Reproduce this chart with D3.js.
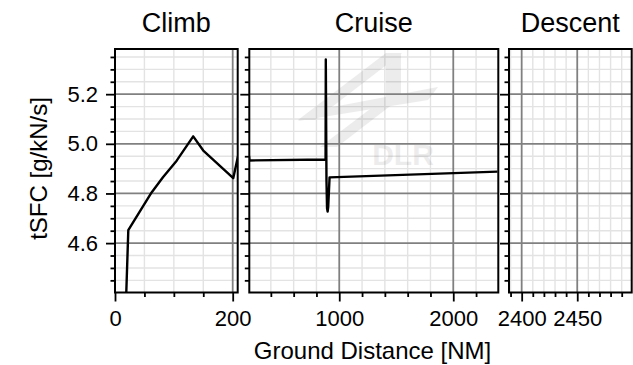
<!DOCTYPE html>
<html>
<head>
<meta charset="utf-8">
<script src="https://cdn.jsdelivr.net/npm/d3@7"></script>
<style>
  body { margin: 0; background: #fff; }
  svg { display: block; font-family: "Liberation Sans", Arial, sans-serif; }
</style>
</head>
<body>
<svg id="chart" width="633" height="365"></svg>
<script>
// tSFC over ground distance, one flight, split into the three phases
const distance = [18.9, 22.6, 62.2, 81.5, 104.8, 132.9, 150, 201, 209, 212,
                  880, 882, 888, 893, 898, 903, 915, 2388];
const tsfc = [4.38, 4.652, 4.804, 4.865, 4.932, 5.030, 4.973, 4.862, 4.95, 4.933,
              4.937, 5.34, 4.85, 4.74, 4.727, 4.745, 4.865, 4.888];

const phases = ["Climb", "Cruise", "Descent"];
const phaseLimits = [[0, 208.5], [211, 2395], [2388.6, 2499]];
const phaseMajor = [[0, 200], [1000, 2000], [2400, 2450]];
const phaseMinorStep = [50, 200, 10];

const yLimits = [4.401, 5.382];
const yMajor = [4.6, 4.8, 5.0, 5.2];
const yMinorStep = 0.05;

const xLabel = "Ground Distance [NM]";
const yLabel = "tSFC [g/kN/s]";

// layout (pixels)
const plotTop = 49, plotBottom = 292.5;
const panelBox = [[115, 237.7], [249.3, 498.3], [509, 631.7]];

const svg = d3.select("#chart");
const y = d3.scaleLinear().domain(yLimits).range([plotBottom, plotTop]);

const yMinor = d3.range(4.4, 5.4, yMinorStep).map(v => +v.toFixed(2))
    .filter(v => v >= yLimits[0] && v <= yLimits[1] && !yMajor.some(m => Math.abs(m - v) < 1e-6));

const points = distance.map((d, i) => ({ x: d, y: tsfc[i] }));

phases.forEach((name, i) => {
    const [x0, x1] = panelBox[i];
    const x = d3.scaleLinear().domain(phaseLimits[i]).range([x0, x1]);
    const [lo, hi] = phaseLimits[i];
    const step = phaseMinorStep[i];
    const xMinor = d3.range(Math.ceil(lo / step) * step, hi + 1e-9, step)
        .filter(v => !phaseMajor[i].includes(v));

    const g = svg.append("g");

    // minor grid
    g.append("g").selectAll("line").data(xMinor).join("line")
        .attr("x1", d => x(d)).attr("x2", d => x(d))
        .attr("y1", plotTop).attr("y2", plotBottom)
        .attr("stroke", "#e3e3e3").attr("stroke-width", 1.4);
    g.append("g").selectAll("line").data(yMinor).join("line")
        .attr("x1", x0).attr("x2", x1)
        .attr("y1", d => y(d)).attr("y2", d => y(d))
        .attr("stroke", "#e3e3e3").attr("stroke-width", 1.4);

    // watermark in the cruise panel
    if (name === "Cruise") {
        const wm = g.append("g").attr("fill", "#000").attr("opacity", 0.07);
        const shapes = [
            [[298, 120], [315, 120], [402, 53], [386, 53]],
            [[386, 53], [401, 53], [401, 100], [386, 100]],
            [[312, 111], [438, 87], [428, 100], [298, 121]],
            [[320, 147], [337, 147], [398, 100], [382, 100]]
        ];
        wm.selectAll("polygon").data(shapes).join("polygon")
            .attr("points", d => d.map(p => p.join(",")).join(" "));
        wm.append("text").attr("x", 403).attr("y", 165)
            .attr("text-anchor", "middle").attr("font-weight", "bold")
            .attr("font-size", 30).text("DLR");
    }

    // major grid
    g.append("g").selectAll("line").data(phaseMajor[i]).join("line")
        .attr("x1", d => x(d)).attr("x2", d => x(d))
        .attr("y1", plotTop).attr("y2", plotBottom)
        .attr("stroke", "#808080").attr("stroke-width", 1.8);
    g.append("g").selectAll("line").data(yMajor).join("line")
        .attr("x1", x0).attr("x2", x1)
        .attr("y1", d => y(d)).attr("y2", d => y(d))
        .attr("stroke", "#808080").attr("stroke-width", 1.8);

    // the curve, clipped to the panel
    svg.append("clipPath").attr("id", "clip" + i)
        .append("rect").attr("x", x0).attr("y", plotTop)
        .attr("width", x1 - x0).attr("height", plotBottom - plotTop);
    g.append("path")
        .datum(points)
        .attr("clip-path", `url(#clip${i})`)
        .attr("fill", "none")
        .attr("stroke", "#000")
        .attr("stroke-width", 2.4)
        .attr("stroke-linejoin", "round")
        .attr("d", d3.line().x(d => x(d.x)).y(d => y(d.y)));

    // axes
    const axStyle = sel => {
        sel.select(".domain").remove();
        sel.selectAll("line").attr("stroke", "#000").attr("stroke-width", 1.8);
        sel.selectAll("text").attr("fill", "#000").attr("font-size", 22)
            .attr("font-family", "Liberation Sans, Arial, sans-serif");
    };
    g.append("g").attr("transform", `translate(0,${plotBottom})`)
        .call(d3.axisBottom(x).tickValues(phaseMajor[i]).tickSize(9).tickPadding(9)
            .tickFormat(d3.format("d")))
        .call(axStyle);
    g.append("g").attr("transform", `translate(0,${plotBottom})`)
        .call(d3.axisBottom(x).tickValues(xMinor).tickSize(4.5).tickFormat(""))
        .call(axStyle);
    g.append("g").attr("transform", `translate(${x0},0)`)
        .call(d3.axisLeft(y).tickValues(yMajor).tickSize(9).tickPadding(8)
            .tickFormat(i === 0 ? d3.format(".1f") : ""))
        .call(axStyle);
    g.append("g").attr("transform", `translate(${x0},0)`)
        .call(d3.axisLeft(y).tickValues(yMinor).tickSize(4.5).tickFormat(""))
        .call(axStyle);

    // frame
    g.append("rect").attr("x", x0).attr("y", plotTop)
        .attr("width", x1 - x0).attr("height", plotBottom - plotTop)
        .attr("fill", "none").attr("stroke", "#000").attr("stroke-width", 2);

    // title
    svg.append("text").attr("x", (x0 + x1) / 2).attr("y", 32)
        .attr("text-anchor", "middle").attr("font-size", 27).text(name);
});

svg.append("text").attr("x", 372.5).attr("y", 359)
    .attr("text-anchor", "middle").attr("font-size", 24).text(xLabel);
svg.append("text").attr("transform", "translate(47,168.5) rotate(-90)")
    .attr("text-anchor", "middle").attr("font-size", 24).text(yLabel);
</script>
</body>
</html>
